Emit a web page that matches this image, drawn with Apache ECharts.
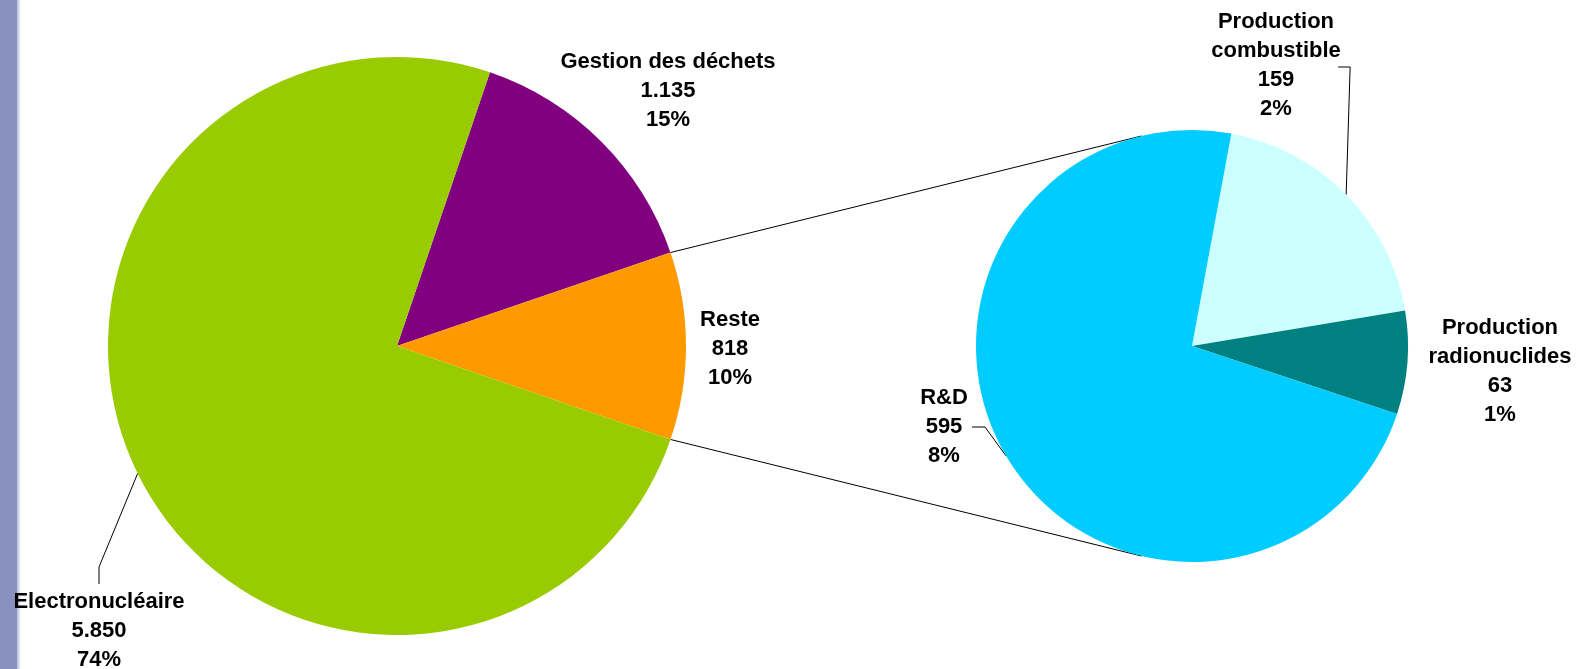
<!DOCTYPE html>
<html>
<head>
<meta charset="utf-8">
<script src="https://cdn.jsdelivr.net/npm/echarts@6/dist/echarts.min.js"></script>
<style>
html,body{margin:0;padding:0;background:#fff;}
#chart{width:1579px;height:669px;}
</style>
</head>
<body>
<div id="chart"></div>
<script>
// ---- data ----
const mainCategories = ['Gestion des déchets', 'Reste', 'Electronucléaire'];
const mainValues = [1135, 818, 5850];
const mainPercents = ['15%', '10%', '74%'];
const subCategories = ['Production\ncombustible', 'Production\nradionuclides', 'R&D'];
const subValues = [159, 63, 595];
const subPercents = ['2%', '1%', '8%'];

// ---- layout ----
const L = {cx: 397, cy: 346, r: 289};
const R = {cx: 1192, cy: 346, r: 216};
const FONT = '"Liberation Sans", Arial, sans-serif';
const mainLabelPos = [[668, 91], [730, 349], [99, 631]];
const subLabelPos = [[1276, 65], [1500, 371], [944, 427]];
const connectorAngleR = 103.5;
const subStart = 79.5;

function fmt(v) { return String(v).replace(/\B(?=(\d{3})+(?!\d))/g, '.'); }
const sum = a => a.reduce((s, x) => s + x, 0);
const mainTotal = sum(mainValues);
const subTotal = sum(subValues);
// main pie: "Reste" slice centred on 3 o'clock
const mainStart = 360 * (mainValues[0] + mainValues[1] / 2) / mainTotal;

function pt(c, angDeg, rr) {
  const a = angDeg * Math.PI / 180;
  return [c.cx + (rr || c.r) * Math.cos(a), c.cy - (rr || c.r) * Math.sin(a)];
}
function midAngle(values, start, idx) {
  const tot = sum(values);
  let acc = 0;
  for (let i = 0; i < idx; i++) acc += values[i];
  return start - 360 * (acc + values[idx] / 2) / tot;
}

const labelStyle = {color: '#000', fontFamily: FONT, fontWeight: 'bold', fontSize: 22, lineHeight: 29, align: 'center', overflow: 'none'};

const chart = echarts.init(document.getElementById('chart'));

// connector lines between pies
const resteHalf = 180 * mainValues[1] / mainTotal;
const pTopL = pt(L, resteHalf), pBotL = pt(L, -resteHalf);
const pTopR = pt(R, connectorAngleR), pBotR = pt(R, -connectorAngleR);

// leader lines (from slice mid-angle on the rim)
const eMid = pt(L, midAngle(mainValues, mainStart, 2));
const cMid = pt(R, midAngle(subValues, subStart, 0));
const rdMid = pt(R, midAngle(subValues, subStart, 2));
const lineStyle = {stroke: '#000', lineWidth: 1, fill: null};

const graphics = [
  {type: 'rect', shape: {x: 0, y: 0, width: 17, height: 669}, style: {fill: '#8790BF'}, silent: true},
  {type: 'rect', shape: {x: 17, y: 0, width: 4, height: 669}, style: {fill: new echarts.graphic.LinearGradient(0,0,1,0,[{offset:0,color:'#B5BBDA'},{offset:1,color:'#FFFFFF'}])}, silent: true},
  {type: 'line', shape: {x1: pTopL[0], y1: pTopL[1], x2: pTopR[0], y2: pTopR[1]}, style: {stroke: '#000', lineWidth: 1}, silent: true},
  {type: 'line', shape: {x1: pBotL[0], y1: pBotL[1], x2: pBotR[0], y2: pBotR[1]}, style: {stroke: '#000', lineWidth: 1}, silent: true},
  {type: 'polyline', shape: {points: [eMid, [99, 567], [99, 584]]}, style: lineStyle, silent: true},
  {type: 'polyline', shape: {points: [[cMid[0], cMid[1]], [cMid[0] + 4, 67], [cMid[0] - 8, 67]]}, style: lineStyle, silent: true},
  {type: 'polyline', shape: {points: [rdMid, [985, 427], [972, 427]]}, style: lineStyle, silent: true}
];

function makeData(cats, vals, pcts, colors) {
  return cats.map((c, i) => ({
    name: c, value: vals[i],
    itemStyle: {color: colors[i]},
    label: {formatter: c + '\n' + fmt(vals[i]) + '\n' + pcts[i]}
  }));
}

chart.setOption({
  animation: false,
  backgroundColor: '#fff',
  graphic: graphics,
  series: [
    {
      type: 'pie', center: [L.cx, L.cy], radius: [0, L.r],
      startAngle: mainStart, clockwise: true, silent: true,
      itemStyle: {borderWidth: 0},
      label: Object.assign({show: true, position: 'inside'}, labelStyle),
      labelLine: {show: false},
      labelLayout: p => ({x: mainLabelPos[p.dataIndex][0], y: mainLabelPos[p.dataIndex][1], align: 'center', verticalAlign: 'middle'}),
      data: makeData(mainCategories, mainValues, mainPercents, ['#800080', '#FF9900', '#99CC00'])
    },
    {
      type: 'pie', center: [R.cx, R.cy], radius: [0, R.r],
      startAngle: subStart, clockwise: true, silent: true,
      itemStyle: {borderWidth: 0},
      label: Object.assign({show: true, position: 'inside'}, labelStyle),
      labelLine: {show: false},
      labelLayout: p => ({x: subLabelPos[p.dataIndex][0], y: subLabelPos[p.dataIndex][1], align: 'center', verticalAlign: 'middle'}),
      data: makeData(subCategories, subValues, subPercents, ['#CCFFFF', '#008080', '#00CCFF'])
    }
  ]
});
</script>
</body>
</html>
